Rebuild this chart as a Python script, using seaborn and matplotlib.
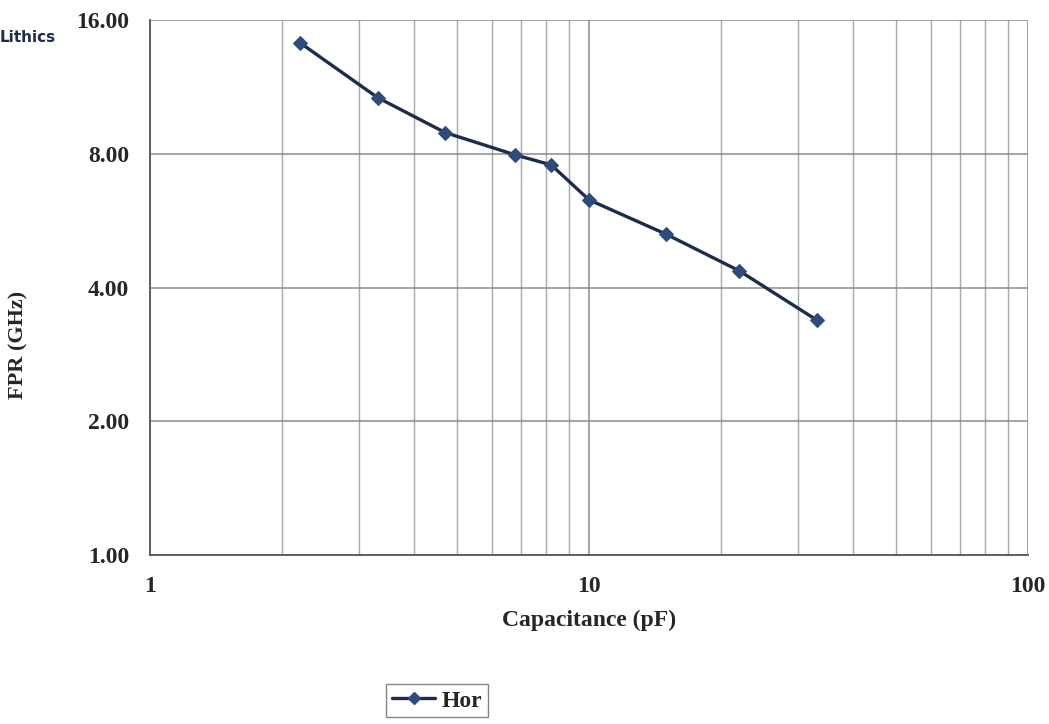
import numpy as np
import pandas as pd
import matplotlib
matplotlib.use('Agg')
import matplotlib.pyplot as plt
import seaborn as sns
from matplotlib.ticker import FixedLocator, NullFormatter, FixedFormatter

# values
capacitance = [2.2, 3.3, 4.7, 6.8, 8.2, 10, 15, 22, 33]
fpr = [14.2, 10.7, 8.93, 7.95, 7.55, 6.30, 5.27, 4.36, 3.38]
series_name = 'Hor'
y_ticks = [1, 2, 4, 8, 16]
y_tick_labels = ['1.00', '2.00', '4.00', '8.00', '16.00']
x_ticks = [1, 10, 100]
x_tick_labels = ['1', '10', '100']

df = pd.DataFrame({'Capacitance': capacitance, 'FPR': fpr, 'Series': series_name})

sns.set_style('white')
plt.rcParams['font.family'] = ['Liberation Serif', 'DejaVu Serif']

fig = plt.figure(figsize=(10.49, 7.24), dpi=100)
ax = fig.add_axes([0.143, 0.2334, 0.837, 0.739])

sns.lineplot(data=df, x='Capacitance', y='FPR', hue='Series', palette=['#1c2c4c'],
             marker='D', markersize=7, markerfacecolor='#2f4b7c', markeredgecolor='#2f4b7c',
             linewidth=2.4, ax=ax, legend=False, zorder=5)

ax.set_xscale('log')
ax.set_yscale('log', base=2)
ax.set_xlim(1, 100)
ax.set_ylim(1, 16)

ax.xaxis.set_major_locator(FixedLocator(x_ticks))
ax.xaxis.set_major_formatter(FixedFormatter(x_tick_labels))
minor_x = [m * d for d in (1, 10) for m in range(2, 10)]
ax.xaxis.set_minor_locator(FixedLocator(minor_x))
ax.xaxis.set_minor_formatter(NullFormatter())
ax.yaxis.set_major_locator(FixedLocator(y_ticks))
ax.yaxis.set_major_formatter(FixedFormatter(y_tick_labels))
ax.yaxis.set_minor_locator(FixedLocator([]))

ax.grid(True, which='major', axis='both', color='#8c8c8c', linewidth=1.1)
ax.grid(True, which='minor', axis='x', color='#a8a8a8', linewidth=1.0)
ax.set_axisbelow(True)

for side in ['top', 'right']:
    ax.spines[side].set_visible(False)
for side in ['left', 'bottom']:
    ax.spines[side].set_color('#555555')
    ax.spines[side].set_linewidth(1.3)

ax.tick_params(axis='both', which='major', direction='out', length=5, width=1.1,
               color='#555555', labelsize=17)
ax.tick_params(axis='x', which='minor', length=0)
for lbl in ax.get_xticklabels() + ax.get_yticklabels():
    lbl.set_fontweight('bold')
ax.tick_params(axis='x', pad=10)
ax.tick_params(axis='y', pad=10)

ax.set_xlabel('Capacitance (pF)', fontsize=17, fontweight='bold')
ax.xaxis.set_label_coords(0.5, -0.102)
ax.set_ylabel('FPR (GHz)', fontsize=16, fontweight='bold')
ax.yaxis.set_label_coords(-0.138, 0.393)

handle = plt.Line2D([], [], color='#1c2c4c', linewidth=2.4, marker='D', markersize=6,
                    markerfacecolor='#2f4b7c', markeredgecolor='#2f4b7c')
fig.legend([handle], [series_name], loc='center', bbox_to_anchor=(0.417, 0.032),
           frameon=True, fancybox=False, edgecolor='#666666', handlelength=1.8,
           handletextpad=0.3, borderpad=0.25,
           prop={'family': 'Liberation Serif', 'weight': 'bold', 'size': 17})

fig.text(0.0, 0.948, 'Lithics', fontsize=11, color='#1c2c4c', fontweight='bold',
         family='DejaVu Sans', va='center')

fig.savefig('out.png', dpi=100)
